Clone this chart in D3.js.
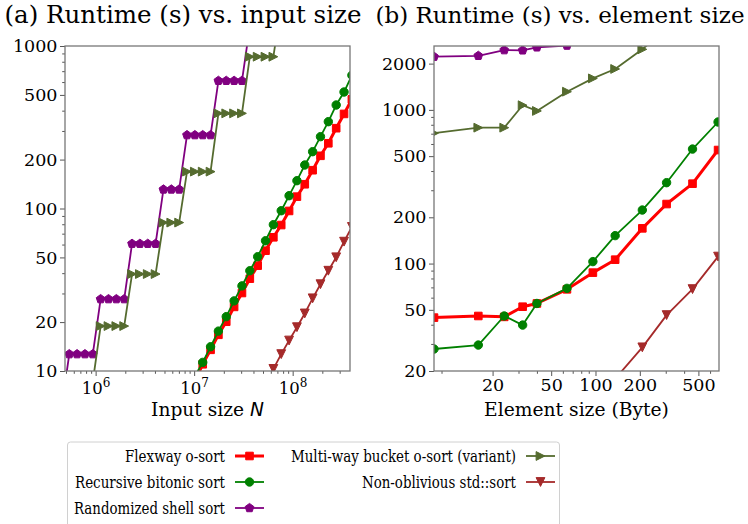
<!DOCTYPE html>
<html><head><meta charset="utf-8">
<script src="https://cdn.jsdelivr.net/npm/d3@7"></script>
</head><body style="margin:0;background:#fff">
<svg id="c" width="748" height="524" font-family="DejaVu Serif" style="display:block"></svg>
<script>
// ---------- Data: (a) runtime vs input size ----------
const inputSizes = [4.49e5, 5.40e5, 6.48e5, 7.79e5, 9.36e5, 1.124e6, 1.351e6, 1.623e6, 1.950e6, 2.342e6,
  2.814e6, 3.381e6, 4.062e6, 4.880e6, 5.863e6, 7.044e6, 8.463e6, 1.017e7, 1.222e7, 1.468e7,
  1.763e7, 2.118e7, 2.545e7, 3.058e7, 3.674e7, 4.414e7, 5.303e7, 6.371e7, 7.655e7, 9.197e7,
  1.105e8, 1.327e8, 1.595e8, 1.916e8, 2.302e8, 2.766e8, 3.323e8, 3.992e8];
const flexwayA = [null, null, null, null, null, null, null, null, null, null, null, null, null, null, null, null, null,
  8.7, 11.0, 13.5, 16.7, 20.1, 24.8, 30.2, 37.0, 44.5, 55.0, 66.5, 79.1, 96.6, 118.3, 141, 172, 211, 252, 312, 382, 470];
const bitonicA = [null, null, null, null, null, null, null, null, null, null, null, null, null, null, null, null,
  7.3, 9.3, 11.3, 14.1, 17.6, 21.6, 27.0, 33.4, 41.4, 50.5, 63.3, 79.5, 96.9, 119.9, 148.3, 185.2, 223.7, 276.7, 342.2, 433.3, 521, 660];
const shellA = [5.8, 12.7, 12.7, 12.7, 12.7, 27.7, 27.7, 27.7, 27.7, 60.7, 60.7, 60.7, 60.7, 131, 131, 131,
  283, 283, 283, 283, 611, 611, 611, 611, 1320, 1320, 1320, 1320, null, null, null, null, null, null, null, null, null, null];
const bucketA = [null, 8.6, 8.6, 8.6, 8.6, 18.9, 18.9, 18.9, 18.9, 39.5, 39.5, 39.5, 39.5, 81.9, 81.9, 81.9,
  168.6, 168.6, 168.6, 168.6, 385, 385, 385, 385, 859, 859, 859, 859, 1800, 1800, 1800, 1800, null, null, null, null, null, null];
const stdsortA = [null, null, null, null, null, null, null, null, null, null, null, null, null, null, null, null, null, null, null, null, null, null, null, null, null, null,
  8.4, 10.3, 12.7, 15.4, 18.6, 22.6, 28.0, 34.2, 41.4, 50.1, 62.5, 77];

// ---------- Data: (b) runtime vs element size ----------
const elementSizes = [8, 16, 24, 32, 40, 64, 96, 136, 208, 304, 456, 680];
const flexwayB = [44.5, 45.6, 45.0, 52.4, 55.0, 68, 87.3, 106, 169.5, 244, 331, 548];
const bitonicB = [27.8, 29.5, 45.6, 39.8, 55.0, 69, 103, 152, 223, 336, 556, 834];
const shellB = [2218, 2249, 2448, 2441, 2553, 2620, 2900, 3400, 4300, 5600, 7600, 10500];
const bucketB = [705, 766, 766, 1072, 984, 1313, 1603, 1846, 2477, 3400, 4800, 7000];
const stdsortB = [null, null, null, null, 7, 9, 12.5, 17.8, 28.5, 46.2, 68.2, 111];

// ---------- Ticks ----------
const aXMajor = [1e6, 1e7, 1e8];
const aXMinor = [5e5, 6e5, 7e5, 8e5, 9e5, 2e6, 3e6, 4e6, 5e6, 6e6, 7e6, 8e6, 9e6, 2e7, 3e7, 4e7, 5e7, 6e7, 7e7, 8e7, 9e7, 2e8, 3e8];
const aYMajor = [10, 20, 50, 100, 200, 500, 1000];
const aYMinor = [30, 40, 60, 70, 80, 90, 300, 400, 600, 700, 800, 900];
const bXMajor = [20, 50, 100, 200, 500];
const bXMinor = [9, 30, 40, 60, 70, 80, 90, 300, 400, 600];
const bYMajor = [20, 50, 100, 200, 500, 1000, 2000];
const bYMinor = [30, 40, 60, 70, 80, 90, 300, 400, 600, 700, 800, 900];

const seriesNames = ["Flexway o-sort", "Recursive bitonic sort", "Randomized shell sort",
  "Multi-way bucket o-sort (variant)", "Non-oblivious std::sort"];
const seriesColors = ["#ff0000", "#008000", "#800080", "#556b2f", "#a52a2a"];
const seriesMarkers = ["square", "circle", "pentagon", "triRight", "triDown"];
const seriesWidths = [3, 1.8, 1.8, 1.8, 1.8];

// ---------- Drawing ----------
const FONT = "DejaVu Serif";
const svg = d3.select("#c");
const frameColor = "#777";

function fitText(t, width, size) {
  t.attr("font-size", size);
  const w = t.node().getComputedTextLength();
  t.attr("font-size", (size * width / w).toFixed(2));
}

function markerPath(kind) {
  if (kind === "square") { const s = 3.8; return `M${-s},${-s}H${s}V${s}H${-s}Z`; }
  if (kind === "circle") { const r = 4.2; return `M${r},0A${r},${r} 0 1,1 ${-r},0A${r},${r} 0 1,1 ${r},0Z`; }
  if (kind === "pentagon") {
    const r = 4.6; let p = "";
    for (let k = 0; k < 5; k++) { const a = -Math.PI / 2 + k * 2 * Math.PI / 5; p += (k ? "L" : "M") + (r * Math.cos(a)).toFixed(2) + "," + (r * Math.sin(a)).toFixed(2); }
    return p + "Z";
  }
  if (kind === "triRight") { const r = 4.4; return `M${r},0L${-r},${-r}L${-r},${r}Z`; }
  if (kind === "triDown") { const r = 4.4; return `M0,${r}L${-r},${-r}L${r},${-r}Z`; }
}

function panel(id, x0, x1, y0, y1, xDomain, yDomain, xs, seriesList, ticks, xLabel, xLabelW, title, titleX, titleW) {
  const x = d3.scaleLog().domain(xDomain).range([x0, x1]);
  const y = d3.scaleLog().domain(yDomain).range([y1, y0]);
  const g = svg.append("g");
  g.append("clipPath").attr("id", "clip" + id).append("rect")
    .attr("x", x0).attr("y", y0).attr("width", x1 - x0).attr("height", y1 - y0);

  // title
  const tt = g.append("text").attr("x", titleX).attr("y", 23).attr("text-anchor", "middle")
    .attr("font-family", FONT).text(title);
  fitText(tt, titleW, 22);

  // axes
  const fmtY = d3.format("d");
  const ay = g.append("g").attr("transform", `translate(${x0},0)`)
    .call(d3.axisLeft(y).tickValues(ticks.yMajor).tickFormat(fmtY).tickSize(5).tickPadding(2.5));
  const ayMin = g.append("g").attr("transform", `translate(${x0},0)`)
    .call(d3.axisLeft(y).tickValues(ticks.yMinor).tickFormat("").tickSize(2.8));
  const ax = g.append("g").attr("transform", `translate(0,${y1})`)
    .call(d3.axisBottom(x).tickValues(ticks.xMajor).tickFormat(ticks.xFmt).tickSize(5).tickPadding(3));
  const axMin = g.append("g").attr("transform", `translate(0,${y1})`)
    .call(d3.axisBottom(x).tickValues(ticks.xMinor).tickFormat("").tickSize(2.8));
  [ay, ayMin, ax, axMin].forEach(a => {
    a.attr("font-family", FONT);
    a.select(".domain").remove();
    a.selectAll("line").attr("stroke", "#555").attr("stroke-width", 1);
    a.selectAll("text").attr("font-family", FONT).attr("font-size", 17.5).attr("fill", "#000");
  });
  if (ticks.sup) {
    ax.selectAll(".tick text").each(function (d) {
      const t = d3.select(this); const e = Math.round(Math.log10(d));
      t.text(null).attr("dy", "0.93em").attr("font-size", 16.5);
      t.append("tspan").text("10");
      t.append("tspan").attr("dy", -7).attr("font-size", 12).text(e);
    });
  }

  // series
  const plot = g.append("g").attr("clip-path", `url(#clip${id})`);
  seriesList.forEach((vals, s) => {
    const pts = xs.map((xv, i) => [xv, vals[i]]).filter(p => p[1] != null);
    plot.append("path").datum(pts)
      .attr("d", d3.line().x(p => x(p[0])).y(p => y(p[1])))
      .attr("fill", "none").attr("stroke", seriesColors[s]).attr("stroke-width", seriesWidths[s])
      .attr("stroke-linejoin", "round");
    plot.selectAll(null).data(pts).enter().append("path")
      .attr("transform", p => `translate(${x(p[0])},${y(p[1])})`)
      .attr("d", markerPath(seriesMarkers[s]))
      .attr("fill", seriesColors[s]).attr("stroke", seriesColors[s]).attr("stroke-width", 1);
  });

  // frame
  g.append("rect").attr("x", x0).attr("y", y0).attr("width", x1 - x0).attr("height", y1 - y0)
    .attr("fill", "none").attr("stroke", frameColor).attr("stroke-width", 1.3);

  // x label
  const lab = g.append("text").attr("x", (x0 + x1) / 2).attr("y", 416).attr("text-anchor", "middle")
    .attr("font-family", FONT);
  xLabel(lab);
  fitText(lab, xLabelW, 18);
}

panel("a", 65, 350, 46, 371, [4.887e5, 3.82e8], [10, 1000], inputSizes,
  [flexwayA, bitonicA, shellA, bucketA, stdsortA],
  { xMajor: aXMajor, xMinor: aXMinor, yMajor: aYMajor, yMinor: aYMinor, xFmt: d => d, sup: true },
  t => { t.append("tspan").text("Input size "); t.append("tspan").attr("font-family", "DejaVu Sans").attr("font-style", "italic").text("N"); },
  113, "(a) Runtime (s) vs. input size", 183, 357);

panel("b", 434, 719, 46, 371, [8, 690], [20, 2604], elementSizes,
  [flexwayB, bitonicB, shellB, bucketB, stdsortB],
  { xMajor: bXMajor, xMinor: bXMinor, yMajor: bYMajor, yMinor: bYMinor, xFmt: d3.format("d"), sup: false },
  t => t.text("Element size (Byte)"),
  185, "(b) Runtime (s) vs. element size", 560, 369);

// ---------- Legend ----------
const lg = svg.append("g");
lg.append("rect").attr("x", 67.5).attr("y", 442).attr("width", 492).attr("height", 90)
  .attr("rx", 3).attr("fill", "#fff").attr("stroke", "#d0d0d0").attr("stroke-width", 1);
const legendCols = [0, 0, 0, 1, 1];
const legendRows = [0, 1, 2, 0, 1];
const legendTextW = [100, 150, 151, 225, 154];
const colTextEnd = [225, 516];
const colHandle = [235, 526];
const rowY = [456, 482, 508];
seriesNames.forEach((name, s) => {
  const c = legendCols[s], r = legendRows[s];
  const yy = rowY[r];
  const t = lg.append("text").attr("x", colTextEnd[c]).attr("y", yy + 6).attr("text-anchor", "end")
    .attr("font-family", FONT).attr("font-size", 17.5).text(name);
  t.attr("textLength", legendTextW[s]).attr("lengthAdjust", "spacingAndGlyphs");
  lg.append("line").attr("x1", colHandle[c]).attr("x2", colHandle[c] + 29).attr("y1", yy).attr("y2", yy)
    .attr("stroke", seriesColors[s]).attr("stroke-width", seriesWidths[s]);
  lg.append("path").attr("transform", `translate(${colHandle[c] + 14.5},${yy})`)
    .attr("d", markerPath(seriesMarkers[s])).attr("fill", seriesColors[s]).attr("stroke", seriesColors[s]);
});
</script>
</body></html>
